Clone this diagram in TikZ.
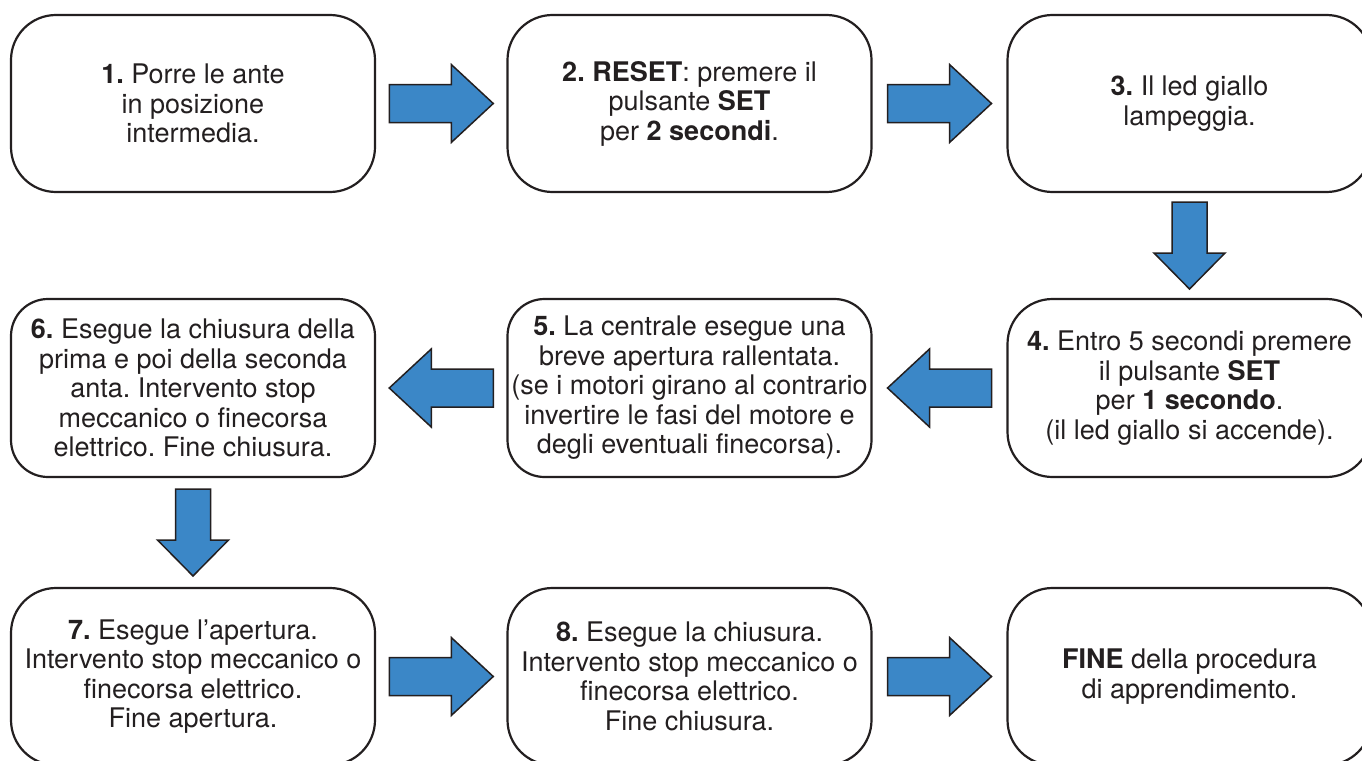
\documentclass[tikz,border=0pt]{standalone}
\usepackage{fontspec}
\setmainfont{TeX Gyre Heros}
\usetikzlibrary{calc}
\frenchspacing
\definecolor{ink}{HTML}{231F20}
\definecolor{flowblue}{HTML}{3B87C7}
\tikzset{
  stepbox/.style={draw=ink, line width=2.2pt, rounded corners=45pt,
    minimum width=364pt, minimum height=177pt, inner sep=0pt,
    align=center, text=ink, font=\fontsize{27}{29.5}\selectfont},
  tightbox/.style={rounded corners=37pt},
  blockarrow/.style={draw=ink, line width=1.5pt, fill=flowblue, line join=miter},
}
% horizontal block arrow, centred in the gap between two anchors
\newcommand\harrow[2]{%
  \draw[blockarrow] let \p1=(#1), \p2=(#2), \p3=($(#1)!0.5!(#2)$),
      \n1={\x3-52*sign(\x2-\x1)}, \n2={\x3+10*sign(\x2-\x1)}, \n3={\x3+52*sign(\x2-\x1)} in
    ({\n1*1pt},{\y3+19pt}) -- ({\n2*1pt},{\y3+19pt}) -- ({\n2*1pt},{\y3+39pt})
    -- ({\n3*1pt},\y3) -- ({\n2*1pt},{\y3-39pt}) -- ({\n2*1pt},{\y3-19pt})
    -- ({\n1*1pt},{\y3-19pt}) -- cycle;}
% vertical block arrow, centred in the gap between two anchors
\newcommand\varrow[2]{%
  \draw[blockarrow] let \p1=(#1), \p2=(#2), \p3=($(#1)!0.5!(#2)$),
      \n1={\y3-43.5*sign(\y2-\y1)}, \n2={\y3+7.5*sign(\y2-\y1)}, \n3={\y3+43.5*sign(\y2-\y1)} in
    ({\x3-17.5pt},{\n1*1pt}) -- ({\x3-17.5pt},{\n2*1pt}) -- ({\x3-35.5pt},{\n2*1pt})
    -- (\x3,{\n3*1pt}) -- ({\x3+35.5pt},{\n2*1pt}) -- ({\x3+17.5pt},{\n2*1pt})
    -- ({\x3+17.5pt},{\n1*1pt}) -- cycle;}
\begin{document}
\begin{tikzpicture}[x=1pt,y=-1pt]
  \useasboundingbox (0,0) rectangle (1362,760);
  \fill[white] (0,0) rectangle (1362,760);

  % first row
  \node[stepbox] (b1) at (193,103.5) {\textbf{1.} Porre le ante\\in posizione\\intermedia.};
  \node[stepbox] (b2) at (689.5,103.5) {\textbf{2. RESET}: premere il\\pulsante \textbf{SET}\\per \textbf{2 secondi}.};
  \node[stepbox] (b3) at (1189.5,103.5) {\textbf{3.} Il led giallo\\lampeggia.};

  % second row
  \node[stepbox, minimum height=178pt] (b4) at (1189.5,388) {\textbf{4.} Entro 5 secondi premere\\il pulsante \textbf{SET}\\per \textbf{1 secondo}.\\(il led giallo si accende).};
  \node[stepbox, tightbox, minimum height=178pt] (b5) at (689.5,388) {\textbf{5.} La centrale esegue una\\breve apertura rallentata.\\(se i motori girano al contrario\\invertire le fasi del motore e\\degli eventuali finecorsa).};
  \node[stepbox, tightbox, minimum height=178pt] (b6) at (193,388) {\textbf{6.} Esegue la chiusura della\\prima e poi della seconda\\anta. Intervento stop\\meccanico o finecorsa\\elettrico. Fine chiusura.};

  % third row
  \node[stepbox] (b7) at (193,676.5) {\textbf{7.} Esegue l’apertura.\\Intervento stop meccanico o\\finecorsa elettrico.\\Fine apertura.};
  \node[stepbox] (b8) at (689.5,676.5) {\textbf{8.} Esegue la chiusura.\\Intervento stop meccanico o\\finecorsa elettrico.\\Fine chiusura.};
  \node[stepbox] (b9) at (1189.5,676.5) {\textbf{FINE} della procedura\\di apprendimento.};

  % flow arrows
  \harrow{b1.east}{b2.west}
  \harrow{b2.east}{b3.west}
  \varrow{b3.south}{b4.north}
  \harrow{b4.west}{b5.east}
  \harrow{b5.west}{b6.east}
  \varrow{b6.south}{b7.north}
  \harrow{b7.east}{b8.west}
  \harrow{b8.east}{b9.west}
\end{tikzpicture}
\end{document}
